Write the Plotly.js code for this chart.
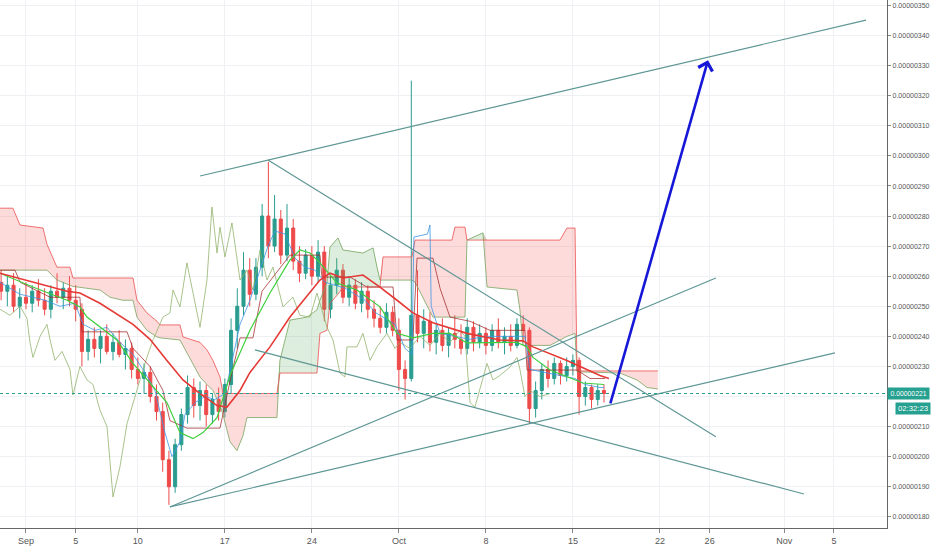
<!DOCTYPE html>
<html>
<head>
<meta charset="utf-8">
<script src="https://cdn.plot.ly/plotly-3.0.1.min.js"></script>
<style>
  html, body { margin: 0; padding: 0; background: #fff; }
  #chart { width: 932px; height: 550px; }
</style>
</head>
<body>
<div id="chart"></div>
<script>
// prices are in satoshi (1e-8), x is days counted from Sep 1
var firstCandleDay = -2;   // Aug 30
var candleStep = 0.5;      // 12h candles

var openP = [258,255,257,250,253,251,255,252,249,255,253,256,252,249,235,239,236,240,235,238,
  234,236,229,226,228,220,215,199,190,204,214,223,217,222,214,219,215,224,242,250,
  262,254,263,280,270,279,267,276,265,261,267,260,268,249,257,262,253,257,251,255,
  249,246,243,248,242,229,226,247,241,245,238,242,237,241,239,236,243,238,241,237,
  242,238,240,237,244,242,216,222,229,226,231,227,230,232,220,223,219,222];
var highP = [262,260,261,256,258,257,259,256,257,261,258,260,257,251,242,243,242,244,241,242,
  239,238,233,231,230,224,218,202,206,216,227,226,225,224,221,223,226,246,256,268,
  266,266,284,298,287,282,284,279,270,269,270,272,270,260,266,264,260,259,258,257,
  252,250,251,250,246,232,325,262,249,248,244,246,243,247,244,246,245,244,243,244,
  246,243,244,246,247,243,225,231,232,233,232,233,234,233,225,224,224,224];
var lowP = [252,250,248,246,249,248,250,247,246,251,249,250,245,230,232,233,231,234,232,233,
  229,226,224,221,218,212,195,184,188,202,211,213,212,210,211,212,213,221,236,247,
  250,252,260,266,268,264,265,262,258,259,257,258,245,246,254,251,250,249,248,246,
  243,241,241,240,222,219,225,238,236,235,234,235,233,236,234,234,235,236,234,235,
  236,234,235,236,238,211,213,219,223,224,224,225,227,214,217,216,217,218];
var closeP = [255,257,250,253,251,255,252,249,255,253,256,252,249,235,239,236,240,235,238,234,
  236,229,226,228,220,215,199,190,204,214,223,217,222,214,219,215,224,242,250,262,
  254,263,280,270,279,267,276,265,261,267,260,268,249,257,262,253,257,251,255,249,
  246,243,248,242,229,226,247,241,245,238,242,237,241,239,236,243,238,241,237,242,
  238,240,237,244,242,216,222,229,226,231,227,230,232,220,223,219,222,221];

var smaRedDay = [-2.09,3.3,4.34,5.95,8.61,9.98,11.34,12.63,14.0,15.37,16.17,17.22,18.02,19.63,21.24,
  22.85,23.65,24.46,25.5,27.11,28.48,29.85,31.13,32.74,35.48,38.13,39.98,40.79,43.52,46.18,46.9];
var smaRedVal = [261,255,254.4,251,244,239,232,225.5,221,217,216.5,222,228,236.5,246.4,
  254.4,258.7,261,259.4,260.4,256.4,252,247.8,244.5,241,238.8,238.5,236.5,232,227,226];

var smaGreenDay = [-2.09,0.56,3.3,4.34,4.91,5.95,7.32,8.61,9.98,11.34,12.39,13.44,14.24,15.37,16.41,
  18.02,19.63,21.24,22.04,22.85,23.65,25.02,26.63,28.48,29.85,31.13,32.74,34.11,35.48,38.13,
  39.5,40.31,40.79,42.16,43.52,44.81,46.5];
var smaGreenVal = [261,256.4,252,249.8,246.4,243,238.8,231,224.5,218,208,206,208,213,227,
  242,254.4,265.4,268.7,267.7,264.4,257.7,255.4,249.8,241,239.5,241,241,237.8,238,
  238,236.5,233,228.8,226.5,224.5,224];

var tenkanDay = [-2.09,-1.29,-0.48,0.56,1.53,2.74,3.94,4.59,5.55,6.52,7.56,8.61,9.57,10.38,11.18,
  11.75,12.39,12.79,13.6,14.4,15.2,16.01,16.57,17.22,18.02,18.83,19.47,20.03,20.84,21.64,
  22.45,23.25,24.06,24.86,25.66,26.47,27.27,28.08,28.88,29.69,30.49,31.05,31.21,32.3,32.5,
  32.6,33.31,34.51,35.72,36.93,38.13,39.34,40.14,40.55,41.75,42.96,44.17,44.97,46.18,46.5];
var tenkanVal = [258,256,254,253,252,250,251,244,242,243,238,234,228,222,208,
  200,205,214,218,220,219,221,232,244,252,262,270,275,274,266,
  263,262,258,257,256,254,252,248,246,244,236,234,273,274,277,
  250,241,240,239,240,240,240,240,229,228,227,226,224,223,223];

var kijunDay = [-2.09,-0.88,-0.48,1.93,4.34,4.51,8.13,8.61,9.98,11.02,11.58,12.95,15.61,16.41,17.22,
  18.26,18.99,21.24,23.65,23.81,26.07,27.43,29.53,29.85,31.13,31.46,32.74,33.31,34.11,35.72,
  37.33,40.14,40.31,44.33,45.37,46.58];
var kijunVal = [262,262,258,253,253,241.5,241.5,236,230,222,212,209.5,209.5,225,239.5,
  239.5,255,267,267,259.7,259.7,256.4,256.4,238.8,238.8,266,266,256,246.4,245,
  242,242,228.8,228.8,226,226];

var chikouDay = [-2.09,-1.29,-0.48,0.08,0.32,0.56,1.13,1.69,1.93,2.33,2.9,3.3,3.54,3.78,4.34,
  4.91,5.39,5.95,6.52,7.0,7.56,8.13,8.61,9.17,9.73,10.22,11.02,11.58,11.83,12.39,
  12.95,13.44,14.0,14.56,14.96,15.37,15.61,16.01,16.57,17.22,17.78,18.26,18.83,19.39,19.87,
  20.68,21.48,22.04,22.85,23.41,24.22,24.7,25.26,25.66,25.82,26.63,27.11,27.68,28.24,29.04,
  29.69,30.09,30.89,31.7,32.5,33.31,34.11,34.92,35.32,35.72,36.12,37.09,37.57,38.13,38.94,
  39.5,39.74,40.14,40.55,41.35,42.16];
var chikouVal = [249,247,250,246,238,233,240,244,239,232,235,231,229,220.5,230,
  225.5,224,215.5,210,186.6,196.6,211,218,225.5,233,238.8,246.4,247.8,255.4,249.8,
  264.4,254.4,243,258.7,283,267.7,276.3,266.4,277.7,258.7,262,255.4,268.7,258.7,263,
  249.8,253,247,246.4,254.4,243,238.8,227.8,226.5,236.5,236.5,241,232,236.5,241,
  236,238,236,240,237,241,238,242,240,218,216.5,231,225.5,227,229.8,
  233,229,220,222,220,221];

var cloudDay = [-2.09,-1.05,-0.48,1.37,1.69,2.49,3.54,3.78,5.95,6.76,7.8,8.61,8.93,9.73,10.54,
  10.78,12.39,12.63,14.0,14.56,15.04,15.61,15.85,16.41,16.97,17.46,17.78,20.19,20.43,21.24,
  22.61,23.41,23.65,24.22,24.46,25.1,25.5,27.11,27.92,28.24,28.48,28.72,31.05,31.3,32.74,
  34.27,34.51,35.32,35.48,36.77,37.09,39.5,39.74,39.98,42.16,42.96,43.52,44.17,44.33,44.57,
  46.18,47.79,49.16,49.96,50.84];
var spanA = [262,262,262,262,262,258.7,257,256.6,255.4,253,252,252,246.4,242,239.8,
  239.5,238.8,237,226.5,224,222,217,214,205,202,207,213,213,232,245.4,
  246.4,248.8,252,258,269.7,272.7,268.7,267.7,269.4,263,258.7,258.7,258.7,258,246.4,
  246.4,246.4,246.4,272,274.4,256.4,255.4,248.8,237,237,238.8,240,241,228.3,228.2,
  228,227.8,225.5,223,222.5];
var spanB = [282.6,282.6,277,276,270.6,263,263,259.4,259.4,259.4,259.4,259.4,252,247.8,245,
  243.8,243.8,239.8,238,235.5,232,226.5,221,221,221,221,221,221,227.8,227.8,
  227.8,227.8,241,242,251,254,256.4,256.4,256.4,256.4,256.4,266.4,266.4,272,272,
  272,276.3,276.3,272,272,272,272,272,272,272,272,276,276,228.5,228.5,
  228.5,228.5,228.5,228.5,228.5];

var trendStartDay = [14.0, 19.47, 18.42, 11.58, 11.58];
var trendStartVal = [293.3, 298.6, 235.5, 183.3, 183.3];
var trendEndDay = [67.58, 55.5, 62.59, 55.5, 65.08];
var trendEndVal = [345.1, 206.6, 187.6, 259.4, 234.5];

var arrowFrom = [46.98, 217.2];
var arrowTo = [54.87, 331.8];

var lastPrice = 221;
var lastLabel = '0.00000221';
var countdown = '02:32:23';

var xTickDays = [0, 4, 9, 16, 23, 30, 37, 44, 51, 55, 61, 65];
var xTickText = ['Sep', '5', '10', '17', '24', 'Oct', '8', '15', '22', '26', 'Nov', '5'];
var yTickVals = [180,190,200,210,220,230,240,250,260,270,280,290,300,310,320,330,340,350];
var yTickCovered = 220;   // sits under the last price badge, no label in the screenshot

var candleDay = closeP.map(function(c, i){ return firstCandleDay + i * candleStep; });
var cloudTop = spanA.map(function(a, k){ return Math.max(a, spanB[k]); });
var yTickText = yTickVals.map(function(v){ return v === yTickCovered ? '' : '0.00000' + v; });

var axisFont = 'Liberation Sans, Arial, sans-serif';
var teal = '#26a090';

var traces = [
  // ichimoku cloud: red where span B is above span A, green the other way
  { x: cloudDay, y: spanA, type: 'scatter', mode: 'lines', line: {color: 'rgba(120,165,95,0.8)', width: 1} },
  { x: cloudDay, y: cloudTop, type: 'scatter', mode: 'lines', line: {width: 0}, fill: 'tonexty', fillcolor: 'rgba(244,90,90,0.22)' },
  { x: cloudDay, y: spanB, type: 'scatter', mode: 'lines', line: {color: 'rgba(235,80,80,0.8)', width: 1} },
  { x: cloudDay, y: cloudTop, type: 'scatter', mode: 'lines', line: {width: 0}, fill: 'tonexty', fillcolor: 'rgba(90,170,90,0.2)' },
  { x: chikouDay, y: chikouVal, type: 'scatter', mode: 'lines', line: {color: 'rgba(140,175,100,0.75)', width: 1} },
  { x: kijunDay, y: kijunVal, type: 'scatter', mode: 'lines', line: {color: 'rgba(160,40,40,0.75)', width: 1} },
  { x: tenkanDay, y: tenkanVal, type: 'scatter', mode: 'lines', line: {color: 'rgba(60,150,230,0.8)', width: 1} },
  {
    x: candleDay, open: openP, high: highP, low: lowP, close: closeP, type: 'candlestick',
    whiskerwidth: 0,
    increasing: {line: {color: '#2a9d8f', width: 1}, fillcolor: '#2a9d8f'},
    decreasing: {line: {color: '#ee4a4a', width: 1}, fillcolor: '#ee4a4a'}
  },
  { x: smaGreenDay, y: smaGreenVal, type: 'scatter', mode: 'lines', line: {color: '#3ccf3c', width: 1.2} },
  { x: smaRedDay, y: smaRedVal, type: 'scatter', mode: 'lines', line: {color: '#e53935', width: 1.6} }
];

var shapes = [];
for (var t = 0; t < trendStartDay.length; t++) {
  shapes.push({
    type: 'line', xref: 'x', yref: 'y',
    x0: trendStartDay[t], y0: trendStartVal[t], x1: trendEndDay[t], y1: trendEndVal[t],
    line: {color: '#5e9694', width: 1.2}
  });
}
shapes.push({
  type: 'line', xref: 'paper', yref: 'y', x0: 0, x1: 1, y0: lastPrice, y1: lastPrice,
  line: {color: teal, width: 1, dash: 'dot'}
});

var annotations = [
  {
    x: arrowTo[0], y: arrowTo[1], ax: arrowFrom[0], ay: arrowFrom[1],
    xref: 'x', yref: 'y', axref: 'x', ayref: 'y',
    text: '', showarrow: true, arrowhead: 4, arrowsize: 1.1, arrowwidth: 2.6, arrowcolor: '#1717d8'
  },
  {
    x: 1, xref: 'paper', y: lastPrice, yref: 'y', xanchor: 'left', yanchor: 'middle', xshift: 0,
    width: 41, height: 11, borderpad: 0,
    text: lastLabel, showarrow: false, bgcolor: teal,
    font: {family: axisFont, size: 7.5, color: '#fff'}
  },
  {
    x: 1, xref: 'paper', y: lastPrice, yref: 'y', xanchor: 'left', yanchor: 'middle', xshift: 8, yshift: -15,
    width: 34, height: 11, borderpad: 0,
    text: countdown, showarrow: false, bgcolor: teal,
    font: {family: axisFont, size: 7.5, color: '#fff'}
  }
];

var layout = {
  width: 932, height: 550,
  margin: {l: 0, r: 45, t: 0, b: 22},
  paper_bgcolor: '#ffffff', plot_bgcolor: '#ffffff',
  showlegend: false, hovermode: false,
  xaxis: {
    type: 'linear', range: [-2.09, 69.27],
    tickmode: 'array', tickvals: xTickDays, ticktext: xTickText,
    showgrid: true, gridcolor: '#eef0f4', zeroline: false,
    showline: true, linecolor: '#666', linewidth: 1,
    ticks: 'outside', ticklen: 4, tickcolor: '#888',
    tickfont: {family: axisFont, size: 9, color: '#555'},
    rangeslider: {visible: false}, fixedrange: true
  },
  yaxis: {
    side: 'right', range: [176.3, 351.8],
    tickmode: 'array', tickvals: yTickVals, ticktext: yTickText,
    showgrid: true, gridcolor: '#eef0f4', zeroline: false,
    showline: true, linecolor: '#666', linewidth: 1,
    ticks: 'outside', ticklen: 3, tickcolor: '#888', ticklabelstandoff: 0,
    tickfont: {family: axisFont, size: 7.5, color: '#555'},
    fixedrange: true
  },
  shapes: shapes,
  annotations: annotations
};

// the screenshot uses a narrow face; squeeze the axis labels a little
function squeeze(el, len) {
  el.setAttribute('textLength', len);
  el.setAttribute('lengthAdjust', 'spacingAndGlyphs');
}

Plotly.newPlot('chart', traces, layout, {displayModeBar: false, staticPlot: true}).then(function(){
  document.querySelectorAll('.ytick text').forEach(function(el){
    if (el.textContent) squeeze(el, 37);
  });
  document.querySelectorAll('.annotation-text').forEach(function(el){
    squeeze(el, el.textContent === lastLabel ? 36 : 30);
  });
});
</script>
</body>
</html>
